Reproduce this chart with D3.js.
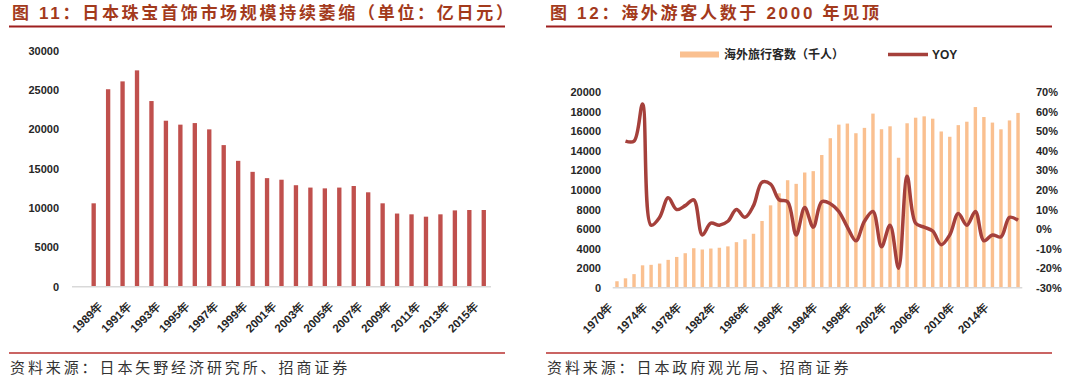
<!DOCTYPE html>
<html lang="zh">
<head>
<meta charset="utf-8">
<title>日本珠宝 / 海外游客</title>
<script src="https://cdn.jsdelivr.net/npm/d3@7"></script>
<style>
  body { margin: 0; background: #fff; }
  svg { display: block; font-family: "Liberation Sans", Arial, "Noto Sans CJK SC", sans-serif; }
  .title { fill: #A33A1C; font-weight: bold; font-size: 17px; font-family: "Liberation Sans", "Noto Sans CJK SC", sans-serif; }
  .source { fill: #333; font-size: 15px; font-family: "Noto Sans CJK SC", sans-serif; }
  .tick text { fill: #262626; font-weight: bold; font-size: 11px; }
  .legend { fill: #262626; font-size: 12px; font-weight: bold; font-family: "Noto Sans CJK SC", sans-serif; }
</style>
</head>
<body>
<div id="chart"></div>
<script>
// 图11 日本珠宝首饰市场规模（亿日元）
var jewelYears = ["1989年","1990年","1991年","1992年","1993年","1994年","1995年","1996年","1997年","1998年",
  "1999年","2000年","2001年","2002年","2003年","2004年","2005年","2006年","2007年","2008年",
  "2009年","2010年","2011年","2012年","2013年","2014年","2015年","2016年"];
var jewelSales = [10600,25100,26100,27500,23600,21100,20600,20800,20000,18000,
  16000,14600,13800,13600,12900,12600,12500,12600,12800,12000,
  10600,9300,9200,8900,9200,9700,9750,9750];
var jewelTicks = [0,5000,10000,15000,20000,25000,30000];

// 图12 海外旅行客数（千人）与 YOY
var travelYears = ["1970年","1971年","1972年","1973年","1974年","1975年","1976年","1977年","1978年","1979年",
  "1980年","1981年","1982年","1983年","1984年","1985年","1986年","1987年","1988年","1989年",
  "1990年","1991年","1992年","1993年","1994年","1995年","1996年","1997年","1998年","1999年",
  "2000年","2001年","2002年","2003年","2004年","2005年","2006年","2007年","2008年","2009年",
  "2010年","2011年","2012年","2013年","2014年","2015年","2016年","2017年"];
var travellers = [660,960,1390,2290,2340,2470,2850,3150,3530,4040,
  3910,4010,4090,4230,4660,4950,5520,6830,8430,9660,
  11000,10630,11790,11930,13580,15300,16690,16800,15810,16360,
  17820,16220,16520,13300,16830,17400,17540,17300,15990,15450,
  16640,16990,18490,17470,16900,16210,17120,17890];
var yoy = [null,0.45,0.45,0.64,0.02,0.06,0.16,0.10,0.12,0.15,
  -0.03,0.03,0.02,0.04,0.10,0.06,0.12,0.24,0.23,0.15,
  0.14,-0.03,0.11,0.01,0.14,0.13,0.09,0.01,-0.06,0.04,
  0.09,-0.09,0.02,-0.20,0.27,0.03,0.01,-0.01,-0.08,-0.03,
  0.08,0.02,0.09,-0.06,-0.03,-0.04,0.06,0.045];
var travelTicks = [0,2000,4000,6000,8000,10000,12000,14000,16000,18000,20000];
var yoyTicks = [-0.3,-0.2,-0.1,0,0.1,0.2,0.3,0.4,0.5,0.6,0.7];
var travelLabels = ["1970年","1974年","1978年","1982年","1986年","1990年","1994年","1998年","2002年","2006年","2010年","2014年"];

var width = 1080, height = 383;
var svg = d3.select("#chart").append("svg")
    .attr("width", width)
    .attr("height", height);

// ---------- headers and footers ----------
function header(x, x1, x2, txt) {
  svg.append("text").attr("class", "title")
      .attr("x", x).attr("y", 19)
      .style("letter-spacing", "2.7px")
      .text(txt);
  svg.append("line").attr("x1", x1).attr("x2", x2).attr("y1", 26.5).attr("y2", 26.5)
      .attr("stroke", "#9E1F1F").attr("stroke-width", 2);
}
function footer(x, x1, x2, txt) {
  svg.append("line").attr("x1", x1).attr("x2", x2).attr("y1", 353).attr("y2", 353)
      .attr("stroke", "#B8312F").attr("stroke-width", 1.5);
  svg.append("text").attr("class", "source")
      .attr("x", x).attr("y", 373)
      .style("letter-spacing", "2.9px")
      .text(txt);
}
header(12, 9, 505, "图 11：日本珠宝首饰市场规模持续萎缩（单位：亿日元）");
header(550, 546, 1052, "图 12：海外游客人数于 2000 年见顶");
footer(10, 9, 505, "资料来源：日本矢野经济研究所、招商证券");
footer(547, 546, 1052, "资料来源：日本政府观光局、招商证券");

// ---------- left chart ----------
var base1 = 286.7;
var x1 = d3.scaleBand()
    .domain(jewelYears)
    .range([72 + (491 - 72) / 29, 491])
    .paddingInner(0.7).paddingOuter(0.35);
var y1 = d3.scaleLinear().domain([0, 30000]).range([base1, 50.7]);

var g1 = svg.append("g");
g1.append("g")
    .attr("transform", "translate(59,0)")
    .call(d3.axisLeft(y1).tickValues(jewelTicks).tickSize(0).tickPadding(0).tickFormat(d3.format("d")))
    .call(function(g) { g.select(".domain").remove(); });

g1.selectAll("rect.bar")
    .data(jewelSales)
  .enter().append("rect")
    .attr("class", "bar")
    .attr("x", function(d, i) { return x1(jewelYears[i]); })
    .attr("width", x1.bandwidth())
    .attr("y", function(d) { return y1(d); })
    .attr("height", function(d) { return base1 - y1(d); })
    .attr("fill", "#C0504D");

g1.append("line").attr("x1", 72).attr("x2", 491).attr("y1", base1).attr("y2", base1)
    .attr("stroke", "#D9D9D9").attr("stroke-width", 1.5);

var xa1 = g1.append("g")
    .attr("transform", "translate(0," + base1 + ")")
    .call(d3.axisBottom(x1).tickValues(jewelYears.filter(function(d, i) { return i % 2 === 0; })).tickSize(0));
xa1.select(".domain").remove();
xa1.selectAll("text")
    .attr("text-anchor", "end")
    .attr("dy", null)
    .attr("transform", "translate(10,20) rotate(-45)")
    .attr("y", 0).attr("x", 0)
    .style("font-size", "11.5px");

// ---------- right chart ----------
var base2 = 287.7;
var x2 = d3.scaleBand()
    .domain(travelYears)
    .range([612.7, 1022.3])
    .paddingInner(0.6).paddingOuter(0.3);
var y2 = d3.scaleLinear().domain([0, 20000]).range([base2, 92.3]);
var y3 = d3.scaleLinear().domain([-0.3, 0.7]).range([base2, 92.3]);

var g2 = svg.append("g");
g2.append("g")
    .attr("transform", "translate(601,0)")
    .call(d3.axisLeft(y2).tickValues(travelTicks).tickSize(0).tickPadding(0).tickFormat(d3.format("d")))
    .call(function(g) { g.select(".domain").remove(); });

g2.append("g")
    .attr("transform", "translate(1036,0)")
    .call(d3.axisRight(y3).tickValues(yoyTicks).tickSize(0).tickPadding(0)
      .tickFormat(function(d) { return Math.round(d * 100) + "%"; }))
    .call(function(g) { g.select(".domain").remove(); });

g2.selectAll("rect.bar")
    .data(travellers)
  .enter().append("rect")
    .attr("class", "bar")
    .attr("x", function(d, i) { return x2(travelYears[i]); })
    .attr("width", x2.bandwidth())
    .attr("y", function(d) { return y2(d); })
    .attr("height", function(d) { return base2 - y2(d); })
    .attr("fill", "#FAC090");

g2.append("line").attr("x1", 612.7).attr("x2", 1022.3).attr("y1", base2).attr("y2", base2)
    .attr("stroke", "#D9D9D9").attr("stroke-width", 1.5);

var line = d3.line()
    .defined(function(d) { return d != null; })
    .x(function(d, i) { return x2(travelYears[i]) + x2.bandwidth() / 2; })
    .y(function(d) { return y3(d); })
    .curve(d3.curveCatmullRom.alpha(0.5));

g2.append("path")
    .datum(yoy)
    .attr("d", line)
    .attr("fill", "none")
    .attr("stroke", "#A5403B")
    .attr("stroke-width", 3.5)
    .attr("stroke-linejoin", "round");

var xa2 = g2.append("g")
    .attr("transform", "translate(0," + base2 + ")")
    .call(d3.axisBottom(x2).tickValues(travelLabels).tickSize(0));
xa2.select(".domain").remove();
xa2.selectAll("text")
    .attr("text-anchor", "end")
    .attr("dy", null)
    .attr("transform", "translate(-3,20) rotate(-45)")
    .attr("y", 0).attr("x", 0)
    .style("font-size", "11.5px");

// legend
svg.append("rect").attr("x", 680).attr("y", 51.5).attr("width", 39).attr("height", 6).attr("fill", "#FAC090");
svg.append("text").attr("class", "legend").attr("x", 724).attr("y", 59).text("海外旅行客数（千人）");
svg.append("line").attr("x1", 888).attr("x2", 928).attr("y1", 54.5).attr("y2", 54.5)
    .attr("stroke", "#A5403B").attr("stroke-width", 3.5);
svg.append("text").attr("class", "legend").attr("x", 932).attr("y", 59)
    .style("font-family", "'Liberation Sans', Arial, sans-serif").style("font-size", "12px").text("YOY");
</script>
</body>
</html>
